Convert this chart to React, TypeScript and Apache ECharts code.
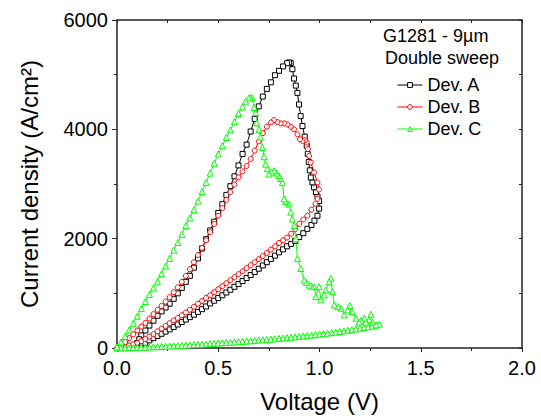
import React, { useEffect, useRef } from "react";
import * as echarts from "echarts";

// Dev. A (black squares)
const devAForward: number[][] = [
  [0.12, 40], [0.14, 90], [0.16, 140], [0.18, 180], [0.2, 220], [0.22, 260], [0.24, 300], [0.26, 340],
  [0.28, 385], [0.3, 430], [0.32, 475], [0.34, 520], [0.36, 565], [0.38, 610], [0.4, 660], [0.42, 710],
  [0.44, 760], [0.46, 815], [0.48, 865], [0.5, 915], [0.52, 965], [0.54, 1015], [0.56, 1065], [0.58, 1120],
  [0.6, 1170], [0.62, 1225], [0.64, 1280], [0.66, 1335], [0.68, 1390], [0.7, 1450], [0.72, 1510], [0.74, 1570],
  [0.76, 1630], [0.78, 1690], [0.8, 1750], [0.82, 1805], [0.84, 1860], [0.86, 1905], [0.88, 1960], [0.9, 2030],
  [0.92, 2100], [0.94, 2180], [0.96, 2250], [0.975, 2330], [0.99, 2420], [0.998, 2550],
];
const devATurn: number[][] = [
  [0.998, 2690], [0.99, 2770], [0.982, 2850], [0.973, 2940], [0.965, 3030], [0.957, 3120], [0.952, 3250],
  [0.947, 3400], [0.942, 3550], [0.937, 3700], [0.927, 3866], [0.916, 4060], [0.907, 4242], [0.899, 4454],
  [0.891, 4667], [0.883, 4800], [0.874, 4930], [0.866, 5100], [0.858, 5212], [0.85, 5225],
];
const devAReverse: number[][] = [
  [0.84, 5210], [0.82, 5150], [0.8, 5070], [0.78, 4990], [0.76, 4860], [0.74, 4740], [0.72, 4600], [0.7, 4420],
  [0.68, 4190], [0.66, 3960], [0.64, 3720], [0.62, 3550], [0.6, 3340], [0.58, 3140], [0.56, 2960], [0.54, 2800],
  [0.52, 2630], [0.5, 2470], [0.48, 2310], [0.46, 2150], [0.44, 1990], [0.42, 1820], [0.4, 1640], [0.38, 1470],
  [0.36, 1320], [0.34, 1210], [0.32, 1100], [0.3, 1000], [0.28, 900], [0.26, 810], [0.24, 740], [0.22, 670],
  [0.2, 590], [0.18, 500], [0.16, 410], [0.14, 320], [0.12, 230], [0.11, 160], [0.1, 90],
];

// Dev. B (red circles)
const devBForward: number[][] = [
  [0, 0], [0.02, 10], [0.04, 25], [0.06, 45], [0.08, 70], [0.1, 95], [0.12, 125], [0.14, 165], [0.16, 210],
  [0.18, 255], [0.2, 305], [0.22, 355], [0.24, 405], [0.26, 455], [0.28, 505], [0.3, 550], [0.32, 600],
  [0.34, 650], [0.36, 700], [0.38, 755], [0.4, 810], [0.42, 860], [0.44, 915], [0.46, 965], [0.48, 1020],
  [0.5, 1075], [0.52, 1130], [0.54, 1185], [0.56, 1240], [0.58, 1295], [0.6, 1350], [0.62, 1405], [0.64, 1460],
  [0.66, 1515], [0.68, 1570], [0.7, 1625], [0.72, 1680], [0.74, 1740], [0.76, 1800], [0.78, 1860], [0.8, 1920],
  [0.82, 1970], [0.84, 2020], [0.86, 2090], [0.88, 2170], [0.9, 2270], [0.92, 2350], [0.94, 2420], [0.96, 2530],
  [0.98, 2640], [0.99, 2730], [0.998, 2900],
];
const devBTurn: number[][] = [
  [0.99, 3030], [0.973, 3212], [0.957, 3393], [0.949, 3515], [0.943, 3640], [0.937, 3757], [0.928, 3800],
  [0.916, 3787], [0.904, 3818], [0.891, 3909], [0.874, 4000], [0.858, 4048], [0.842, 4090], [0.825, 4109],
  [0.808, 4109], [0.792, 4133], [0.775, 4169],
];
const devBReverse: number[][] = [
  [0.76, 4125], [0.74, 4050], [0.72, 3930], [0.7, 3780], [0.68, 3610], [0.66, 3460], [0.64, 3330], [0.62, 3230],
  [0.6, 3120], [0.58, 2990], [0.56, 2850], [0.54, 2710], [0.52, 2560], [0.5, 2420], [0.48, 2270], [0.46, 2120],
  [0.44, 1970], [0.42, 1830], [0.4, 1700], [0.38, 1570], [0.36, 1440], [0.34, 1320], [0.32, 1210], [0.3, 1110],
  [0.28, 1020], [0.26, 930], [0.24, 850], [0.22, 770], [0.2, 700], [0.18, 620], [0.16, 540], [0.14, 460],
  [0.12, 390], [0.1, 320], [0.08, 250], [0.06, 180], [0.04, 110], [0.02, 40], [0.01, 10],
];

// Dev. C (green triangles)
const devCForward: number[][] = [
  [0, 0], [0.02, 2], [0.04, 4], [0.06, 6], [0.08, 8], [0.1, 10], [0.12, 12], [0.14, 15], [0.16, 18], [0.18, 21],
  [0.2, 24], [0.22, 28], [0.24, 32], [0.26, 36], [0.28, 40], [0.3, 44], [0.32, 48], [0.34, 52], [0.36, 56],
  [0.38, 61], [0.4, 66], [0.42, 70], [0.44, 75], [0.46, 80], [0.48, 85], [0.5, 90], [0.52, 95], [0.54, 100],
  [0.56, 105], [0.58, 110], [0.6, 115], [0.62, 120], [0.64, 126], [0.66, 132], [0.68, 138], [0.7, 144],
  [0.72, 150], [0.74, 156], [0.76, 162], [0.78, 168], [0.8, 175], [0.82, 182], [0.84, 189], [0.86, 196],
  [0.88, 204], [0.9, 212], [0.92, 220], [0.94, 228], [0.96, 236], [0.98, 245], [1.0, 254], [1.02, 263],
  [1.04, 272], [1.06, 282], [1.08, 292], [1.1, 302], [1.12, 313], [1.14, 324], [1.16, 336], [1.18, 348],
  [1.2, 361], [1.22, 374], [1.24, 388], [1.26, 402], [1.28, 418], [1.295, 436],
];
const devCNoisy: number[][] = [
  [1.279, 424], [1.262, 473], [1.254, 618], [1.245, 520], [1.229, 473], [1.221, 545], [1.205, 500],
  [1.196, 473], [1.18, 545], [1.16, 667], [1.15, 776], [1.139, 697], [1.122, 606], [1.106, 727], [1.09, 760],
  [1.073, 788], [1.064, 1030], [1.056, 1273], [1.048, 1212], [1.031, 1060], [1.023, 970], [1.007, 879],
  [0.998, 1121], [0.982, 939], [0.974, 1121], [0.96, 1130], [0.949, 1151], [0.935, 1200], [0.924, 1242],
  [0.908, 1454], [0.891, 1636], [0.883, 2000], [0.875, 2242], [0.866, 2360], [0.858, 2485], [0.85, 2636],
  [0.833, 2680], [0.825, 2727], [0.817, 3030], [0.808, 3100], [0.8, 3151], [0.788, 3200], [0.776, 3242],
  [0.763, 3220], [0.751, 3182], [0.742, 3280], [0.734, 3363], [0.726, 3500], [0.718, 3666], [0.709, 3860],
  [0.701, 4000], [0.69, 4121], [0.685, 4303], [0.677, 4400], [0.668, 4575], [0.66, 4580], [0.652, 4575],
];
const devCReverse: number[][] = [
  [0.635, 4515], [0.62, 4410], [0.6, 4290], [0.58, 4140], [0.56, 3990], [0.54, 3850], [0.52, 3700],
  [0.5, 3550], [0.48, 3380], [0.46, 3200], [0.44, 3030], [0.42, 2860], [0.4, 2690], [0.38, 2530], [0.36, 2380],
  [0.34, 2240], [0.32, 2080], [0.3, 1930], [0.28, 1790], [0.26, 1640], [0.24, 1500], [0.22, 1360], [0.2, 1220],
  [0.18, 1100], [0.16, 980], [0.14, 850], [0.12, 720], [0.1, 580], [0.08, 450], [0.06, 330], [0.04, 210],
  [0.02, 110], [0, 20],
];

const seriesNames = ["Dev. A", "Dev. B", "Dev. C"];
const seriesColors = ["#000000", "#ff0000", "#00ff00"];
const annotationLines = ["G1281 - 9µm", "Double sweep"];

export default function App() {
  const ref = useRef<HTMLDivElement>(null);

  useEffect(() => {
    if (!ref.current) return;
    const chart = echarts.init(ref.current, null, { renderer: "svg" });
    const font = "'Liberation Sans', Arial, Helvetica, sans-serif";
    const axisColor = "#222";

    const mk = (name: string, color: string, symbol: string, size: number, data: number[][]) => ({
      name,
      type: "line",
      data,
      symbol,
      symbolSize: size,
      showSymbol: true,
      showAllSymbol: true,
      clip: true,
      lineStyle: { color, width: 1 },
      itemStyle: { color: "#ffffff", borderColor: color, borderWidth: 1 },
      emphasis: { disabled: true },
    });

    chart.setOption({
      animation: false,
      backgroundColor: "#ffffff",
      grid: { left: 117, top: 20, right: 19, bottom: 69, containLabel: false },
      legend: {
        data: seriesNames,
        orient: "vertical",
        left: 392,
        top: 71,
        itemWidth: 25,
        itemHeight: 6,
        itemGap: 4,
        textStyle: { fontSize: 18, fontFamily: font, color: "#000" },
        lineStyle: { width: 1 },
        itemStyle: { borderWidth: 1 },
        selectedMode: false,
      },
      graphic: [
        {
          type: "text",
          left: 383,
          top: 27,
          style: { text: annotationLines[0], fontSize: 18, fontFamily: font, fill: "#000" },
        },
        {
          type: "text",
          left: 385,
          top: 49,
          style: { text: annotationLines[1], fontSize: 18, fontFamily: font, fill: "#000" },
        },
      ],
      xAxis: [
        {
          type: "value",
          min: 0,
          max: 2,
          interval: 0.5,
          position: "bottom",
          name: "Voltage (V)",
          nameLocation: "middle",
          nameGap: 41,
          nameTextStyle: { fontSize: 24, fontFamily: font, color: "#000" },
          axisLine: { show: true, onZero: false, lineStyle: { color: axisColor, width: 1.5 } },
          axisTick: { show: true, inside: false, length: 4, lineStyle: { color: axisColor, width: 1 } },
          minorTick: { show: true, splitNumber: 2, length: 3, lineStyle: { color: axisColor, width: 1 } },
          axisLabel: {
            fontSize: 20,
            fontFamily: font,
            color: "#000",
            margin: 10,
            formatter: (v: number) => v.toFixed(1),
          },
          splitLine: { show: false },
        },
        {
          type: "value",
          min: 0,
          max: 2,
          interval: 0.25,
          position: "top",
          axisLine: { show: true, onZero: false, lineStyle: { color: axisColor, width: 1.5 } },
          axisTick: { show: true, inside: true, length: 3, lineStyle: { color: axisColor, width: 1 } },
          axisLabel: { show: false },
          splitLine: { show: false },
        },
      ],
      yAxis: [
        {
          type: "value",
          min: 0,
          max: 6000,
          interval: 2000,
          position: "left",
          name: "Current density (A/cm²)",
          nameLocation: "middle",
          nameGap: 76,
          nameTextStyle: { fontSize: 24, fontFamily: font, color: "#000" },
          axisLine: { show: true, onZero: false, lineStyle: { color: axisColor, width: 1.5 } },
          axisTick: { show: true, inside: false, length: 5, lineStyle: { color: axisColor, width: 1 } },
          minorTick: { show: true, splitNumber: 2, length: 3, lineStyle: { color: axisColor, width: 1 } },
          axisLabel: {
            fontSize: 20,
            fontFamily: font,
            color: "#000",
            margin: 9,
            formatter: (v: number) => String(v),
          },
          splitLine: { show: false },
        },
        {
          type: "value",
          min: 0,
          max: 6000,
          interval: 1000,
          position: "right",
          axisLine: { show: true, onZero: false, lineStyle: { color: axisColor, width: 1.5 } },
          axisTick: { show: true, inside: true, length: 3, lineStyle: { color: axisColor, width: 1 } },
          axisLabel: { show: false },
          splitLine: { show: false },
        },
      ],
      series: [
        mk(seriesNames[0], seriesColors[0], "rect", 5, [...devAForward, ...devATurn, ...devAReverse]),
        mk(seriesNames[1], seriesColors[1], "circle", 5, [...devBForward, ...devBTurn, ...devBReverse]),
        mk(seriesNames[2], seriesColors[2], "triangle", 6, [...devCForward, ...devCNoisy, ...devCReverse]),
      ],
    });

    return () => chart.dispose();
  }, []);

  return (
    <div
      ref={ref}
      style={{ position: "fixed", left: 0, top: 0, width: 541, height: 418, background: "#fff" }}
    />
  );
}
